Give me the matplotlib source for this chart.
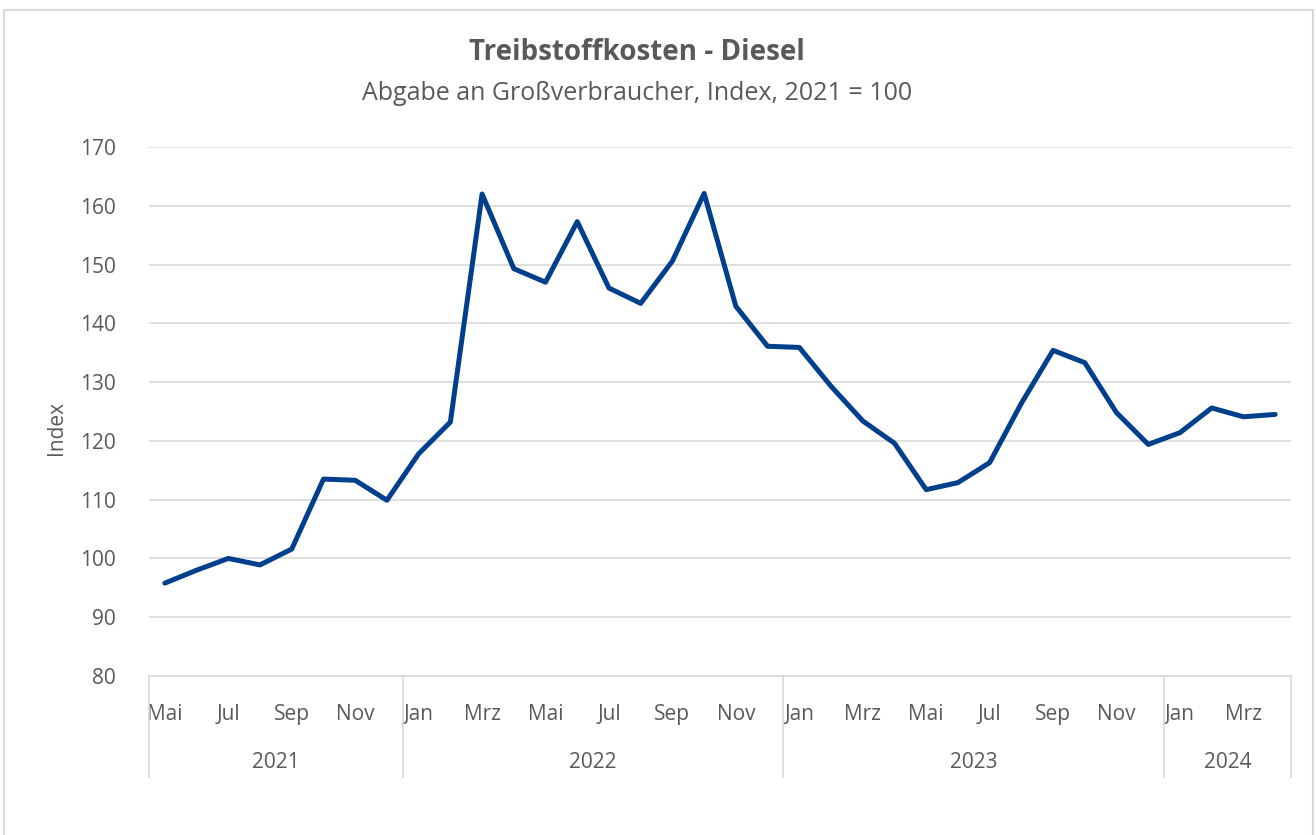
import matplotlib
matplotlib.use("Agg")
import matplotlib.pyplot as plt
from matplotlib.patches import Rectangle
from matplotlib.transforms import blended_transform_factory

plt.rcParams['font.family'] = ['Open Sans', 'DejaVu Sans']

months = ["Mai", "Jun", "Jul", "Aug", "Sep", "Okt", "Nov", "Dez",
          "Jan", "Feb", "Mrz", "Apr", "Mai", "Jun", "Jul", "Aug", "Sep", "Okt", "Nov", "Dez",
          "Jan", "Feb", "Mrz", "Apr", "Mai", "Jun", "Jul", "Aug", "Sep", "Okt", "Nov", "Dez",
          "Jan", "Feb", "Mrz", "Apr"]
years = ["2021", "2022", "2023", "2024"]
year_counts = [8, 12, 12, 4]
values = [95.8, 98.0, 100.0, 98.9, 101.6, 113.5, 113.3, 109.9,
          117.8, 123.2, 162.0, 149.3, 147.0, 157.3, 146.0, 143.4, 150.6, 162.1, 142.9, 136.1,
          135.9, 129.3, 123.4, 119.6, 111.7, 112.9, 116.3, 126.4, 135.4, 133.3, 124.8, 119.4,
          121.4, 125.6, 124.1, 124.5]

text_col = "#595959"
grid_col = "#D9D9D9"
line_col = "#003F8C"

fig = plt.figure(figsize=(13.16, 8.35), dpi=100)
fig.patches.append(Rectangle((4/1316, -0.01), (1313-4)/1316, 1 - 10/835 + 0.01,
                             transform=fig.transFigure, fill=False,
                             edgecolor=grid_col, linewidth=1.5))
ax = fig.add_axes([149/1316, 1 - 676/835, (1291-149)/1316, (676-147)/835])

x = list(range(len(values)))
ax.plot(x, values, color=line_col, linewidth=3.6, solid_capstyle='round',
        solid_joinstyle='round', zorder=3)

ax.set_xlim(-0.5, len(values) - 0.5)
ax.set_ylim(80, 170)
ax.set_yticks(range(80, 171, 10))
ax.yaxis.grid(True, color=grid_col, linewidth=1.2)
ax.set_axisbelow(True)
for s in ["top", "right", "left"]:
    ax.spines[s].set_visible(False)
ax.spines["bottom"].set_color(grid_col)
ax.spines["bottom"].set_linewidth(1.2)
ax.tick_params(axis='y', length=0, labelsize=15, labelcolor=text_col, pad=24)

tick_pos = list(range(0, len(values), 2))
ax.set_xticks(tick_pos)
ax.set_xticklabels([months[i] for i in tick_pos])
ax.tick_params(axis='x', length=0, labelsize=15, labelcolor=text_col, pad=20)

ax.set_ylabel("Index", fontsize=15, color=text_col, va='center')
ax.yaxis.set_label_coords((57 - 149) / 1142, 1 - (428 - 147) / 529)

# year group separators and labels
trans = blended_transform_factory(ax.transData, ax.transAxes)
bottom = -(777 - 676) / (676 - 147)
start = 0
bounds = [-0.5]
for yr, n in zip(years, year_counts):
    end = start + n
    bounds.append(end - 0.5)
    ax.text((start + end - 1) / 2, -(762 - 676) / (676 - 147), yr, transform=trans,
            ha='center', va='center', fontsize=15, color=text_col)
    start = end
for b in bounds:
    ax.plot([b, b], [0, bottom], transform=trans, color=grid_col, linewidth=1.2,
            clip_on=False)

fig.text(637/1316, 1 - 52/835, "Treibstoffkosten - Diesel", ha='center', va='center',
         fontsize=20, fontweight='bold', color=text_col)
fig.text(637/1316, 1 - 94/835, "Abgabe an Großverbraucher, Index, 2021 = 100", ha='center',
         va='center', fontsize=18, color=text_col)

fig.savefig("out.png", dpi=100)
